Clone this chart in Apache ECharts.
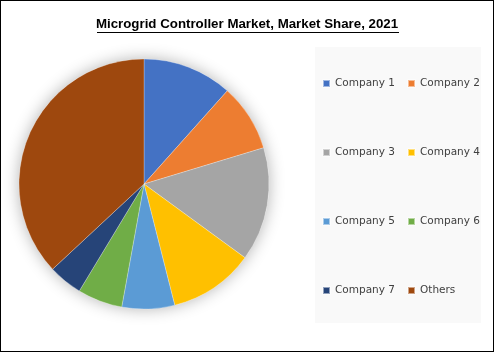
<html>
<head>
    <meta charset="utf-8">
    <title>Microgrid Controller Market</title>
    <style>
        body { margin: 0; background: #fff; }
        #frame { width: 492px; height: 350px; border: 1px solid #000; position: relative; }
        #main { position: absolute; left: -1px; top: -1px; width: 494px; height: 352px; }
    </style>
</head>
<body>
<div id="frame"><div id="main"></div></div>
<script type="text/javascript" src="https://cdn.jsdelivr.net/npm/echarts@6/dist/echarts.min.js"></script>
<script type="text/javascript">
    // data (share in %)
    var titleText = 'Microgrid Controller Market, Market Share, 2021';
    var companies = ['Company 1', 'Company 2', 'Company 3', 'Company 4', 'Company 5', 'Company 6', 'Company 7', 'Others'];
    var shares = [11.6, 8.7, 14.7, 11.0, 6.8, 5.8, 4.4, 36.9];
    var colors = ['#4472C4', '#ED7D31', '#A5A5A5', '#FFC000', '#5B9BD5', '#70AD47', '#264478', '#9E480E'];

    var pieData = [];
    for (var i = 0; i < companies.length; i++) {
        pieData.push({ name: companies[i], value: shares[i] });
    }
    // legend columns, like the office legend (two per row)
    var leftCol = [], rightCol = [];
    for (var j = 0; j < companies.length; j++) {
        if (j % 2 == 0) leftCol.push(companies[j]); else rightCol.push(companies[j]);
    }

    var legendText = { fontFamily: 'DejaVu Sans', fontSize: 10.5, color: '#404040' };

    var myChart = echarts.init(document.getElementById('main'));
    var option = {
        animation: false,
        color: colors,
        graphic: [
            {
                type: 'text', left: 'center', top: 18,
                style: { text: titleText, font: 'bold 13.3px "Liberation Sans"', fill: '#000' }
            },
            {
                type: 'line', shape: { x1: 97, y1: 32.5, x2: 399, y2: 32.5 },
                style: { stroke: '#000', lineWidth: 1 }
            }
        ],
        legend: [
            {
                data: leftCol,
                orient: 'vertical',
                left: 315, top: 47,
                padding: [31, 86, 27, 7],
                backgroundColor: '#f9f9f9',
                itemWidth: 7, itemHeight: 7, itemGap: 58,
                icon: 'rect',
                textStyle: legendText
            },
            {
                data: rightCol,
                orient: 'vertical',
                left: 407, top: 78,
                padding: 0,
                z: 5,
                itemWidth: 7, itemHeight: 7, itemGap: 58,
                icon: 'rect',
                textStyle: legendText
            }
        ],
        series: [
            {
                // soft shadow behind the pie
                type: 'pie',
                silent: true,
                z: 1,
                center: [144, 184],
                radius: 125,
                label: { show: false },
                itemStyle: { color: '#fff', shadowBlur: 16, shadowColor: 'rgba(0,0,0,0.3)' },
                data: [{ name: '', value: 1 }]
            },
            {
                name: 'Market Share',
                type: 'pie',
                z: 2,
                center: [144, 184],
                radius: 125,
                startAngle: 90,
                clockwise: true,
                label: { show: false },
                labelLine: { show: false },
                itemStyle: { borderColor: 'rgba(255,255,255,0.5)', borderWidth: 0.5 },
                data: pieData
            }
        ]
    };
    myChart.setOption(option);
</script>
</body>
</html>
